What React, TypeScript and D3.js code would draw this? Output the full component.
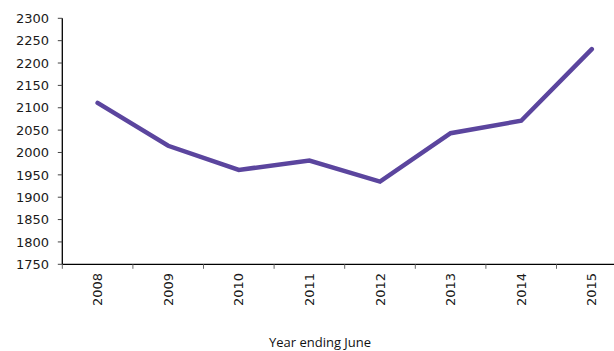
import React from "react";
import * as d3 from "d3";

// Annual figures, year ending June
const years = ["2008", "2009", "2010", "2011", "2012", "2013", "2014", "2015"];
const values = [2111, 2015, 1961, 1982, 1935, 2043, 2071, 2231];
const yTicks = [1750, 1800, 1850, 1900, 1950, 2000, 2050, 2100, 2150, 2200, 2250, 2300];
const xTitle = "Year ending June";

const W = 614;
const H = 351;
const left = 62.3;
const top = 18.3;
const bottom = 264.3;
const bandW = 70.6;

export default function App() {
  const x = d3
    .scaleBand<string>()
    .domain(years)
    .range([left, left + bandW * years.length])
    .padding(0);
  const y = d3.scaleLinear().domain([1750, 2300]).range([bottom, top]);

  const line = d3
    .line<number>()
    .x((_, i) => (x(years[i]) as number) + x.bandwidth() / 2)
    .y((d) => y(d));

  const boundaries = years.map((yr) => x(yr) as number);
  const font = "'DejaVu Sans', sans-serif";

  return (
    <svg
      width={W}
      height={H}
      style={{ position: "fixed", left: 0, top: 0, background: "#fff" }}
    >
      {/* y axis */}
      <line x1={left} x2={left} y1={top} y2={bottom} stroke="#000" strokeWidth={1.3} />
      {yTicks.map((t) => (
        <g key={t}>
          <line x1={left - 4.5} x2={left} y1={y(t)} y2={y(t)} stroke="#444" strokeWidth={1} />
          <text
            x={49}
            y={y(t)}
            dy="0.36em"
            textAnchor="end"
            fontFamily={font}
            fontSize={13}
            fill="#1a1a1a"
          >
            {t}
          </text>
        </g>
      ))}

      {/* x axis */}
      <line x1={left} x2={W} y1={bottom} y2={bottom} stroke="#000" strokeWidth={1.3} />
      {boundaries.map((bx, i) => (
        <line key={i} x1={bx} x2={bx} y1={bottom} y2={bottom + 4.5} stroke="#666" strokeWidth={1} />
      ))}
      {years.map((yr) => {
        const cx = (x(yr) as number) + x.bandwidth() / 2;
        const ly = 273;
        return (
          <text
            key={yr}
            transform={`translate(${cx},${ly}) rotate(-90)`}
            dy="0.36em"
            textAnchor="end"
            fontFamily={font}
            fontSize={13}
            fill="#1a1a1a"
          >
            {yr}
          </text>
        );
      })}
      <text
        x={320}
        y={347}
        textAnchor="middle"
        fontFamily="'Open Sans', sans-serif"
        fontSize={13}
        fill="#111"
      >
        {xTitle}
      </text>

      {/* series */}
      <path
        d={line(values) || ""}
        fill="none"
        stroke="#5b459e"
        strokeWidth={4.5}
        strokeLinecap="round"
        strokeLinejoin="miter"
      />
    </svg>
  );
}
